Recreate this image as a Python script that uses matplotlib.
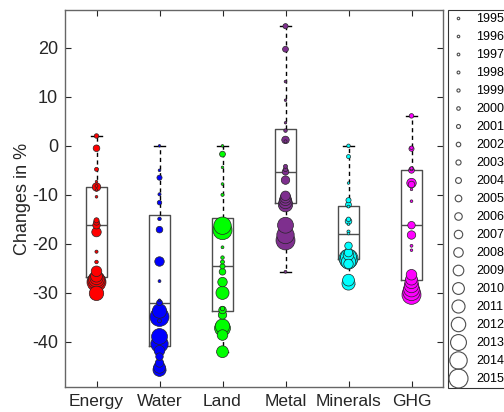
import numpy as np
import matplotlib
matplotlib.use('Agg')
import matplotlib.pyplot as plt
from matplotlib.lines import Line2D

# changes per category and year (1995 ... 2015)
years = list(range(1995, 2016))
categories = ['Energy', 'Water', 'Land', 'Metal', 'Minerals', 'GHG']

energy = [-7.3, -9.0, -10.4, -8.2, -21.6, -23.7, -4.8, 2.0, -15.2, -15.6, -0.5,
          -16.2, -8.4, -17.6, -25.6, -26.6, -27.0, -30.1, -27.2, -27.5, -27.8]
water = [0.0, -31.5, -5.0, -27.6, -9.9, -14.9, -35.7, -11.6, -6.5, -32.0, -17.1,
         -43.0, -44.3, -23.6, -41.8, -45.2, -45.7, -33.7, -38.9, -40.4, -34.9]
land = [0.0, -4.4, -7.8, -20.7, -10.0, -22.8, -23.7, -33.2, -24.6, -1.7, -25.7,
        -33.5, -34.5, -27.8, -38.6, -42.0, -30.0, -36.8, -37.2, -16.3, -17.2]
metal = [4.7, 9.3, 13.1, -25.7, 0.9, 3.1, -4.2, -4.8, 24.4, 19.7, -5.3,
         1.2, -7.0, -10.2, -10.6, -11.0, -11.5, -12.0, -16.2, -18.2, -19.3]
minerals = [-7.6, -16.0, -17.9, -12.4, -17.5, 0.0, -2.2, -15.0, -11.1, -12.0, -15.4,
            -20.4, -21.8, -24.1, -22.3, -27.4, -28.1, -23.7, -22.7, -23.3, -23.0]
ghg = [-8.9, -21.3, -11.3, -20.4, -4.6, -0.4, -4.7, 6.1, -0.6, -5.0, -7.9,
       -16.2, -18.2, -7.6, -26.3, -27.2, -27.8, -28.5, -29.2, -29.8, -30.4]

series = [energy, water, land, metal, minerals, ghg]
colors = ['#ff0000', '#0000ff', '#00ff00', '#7e2f8e', '#00ffff', '#ff00ff']

plt.rcParams['font.family'] = ['Liberation Sans', 'DejaVu Sans']
plt.rcParams['axes.unicode_minus'] = False


# marker diameter (points) grows with the year
def marker_diam(k):
    px = 2.5 + 16.5 * ((k - 1) / 20.0) ** 2.0
    return px * 0.72


diams = np.array([marker_diam(k) for k in range(1, len(years) + 1)])

fig = plt.figure(figsize=(5.04, 4.12), dpi=100)
ax = fig.add_axes([65 / 504, 25 / 412, 378 / 504, 377 / 412])

for i, vals in enumerate(series):
    vals = np.array(vals)
    q1, med, q3 = np.percentile(vals, [25, 50, 75], method='hazen')
    stats = [dict(med=med, q1=q1, q3=q3, whislo=vals.min(), whishi=vals.max(), fliers=[])]
    ax.bxp(stats, positions=[i + 1], widths=0.32, capwidths=0.16, showfliers=False,
           boxprops=dict(color='0.3', lw=1.0),
           medianprops=dict(color='0.3', lw=1.0),
           whiskerprops=dict(color='k', lw=1.0, ls=(0, (3, 2.5))),
           capprops=dict(color='k', lw=1.0), manage_ticks=False)
    # biggest markers first so the small ones stay visible on top
    ax.scatter(np.full(len(vals), i + 1)[::-1], vals[::-1], s=(diams ** 2)[::-1],
               c=colors[i], edgecolors='0.15', linewidths=0.5, zorder=3)

ax.set_xlim(0.5, 6.5)
ax.set_ylim(-49.2, 27.7)
ax.set_xticks(range(1, 7))
ax.set_xticklabels(categories)
ax.set_yticks([-40, -30, -20, -10, 0, 10, 20])
ax.tick_params(direction='in', top=True, right=True, length=4, width=0.8,
               colors='0.15', labelsize=13)
ax.tick_params(axis='x', pad=5, labelsize=12.5)
ax.tick_params(axis='y', pad=5)
for sp in ax.spines.values():
    sp.set_color('0.4')
    sp.set_linewidth(1.0)
ax.set_ylabel('Changes in %', fontsize=13, color='0.15', labelpad=1)

# legend with hollow circles, one per year (runs off the right edge as in the original)
handles = [Line2D([], [], ls='none', marker='o', markersize=d, markerfacecolor='none',
                  markeredgecolor='0.3', markeredgewidth=0.8) for d in diams]
leg = ax.legend(handles, [str(y) for y in years], loc='upper left',
                bbox_to_anchor=(448 / 504, 402 / 412), bbox_transform=fig.transFigure,
                fontsize=9, frameon=True, fancybox=False, edgecolor='k',
                labelspacing=0.48, handlelength=1.1, handletextpad=0.9,
                borderpad=0.25, borderaxespad=0)
leg.get_frame().set_linewidth(0.8)

fig.savefig('out.png', dpi=100)
